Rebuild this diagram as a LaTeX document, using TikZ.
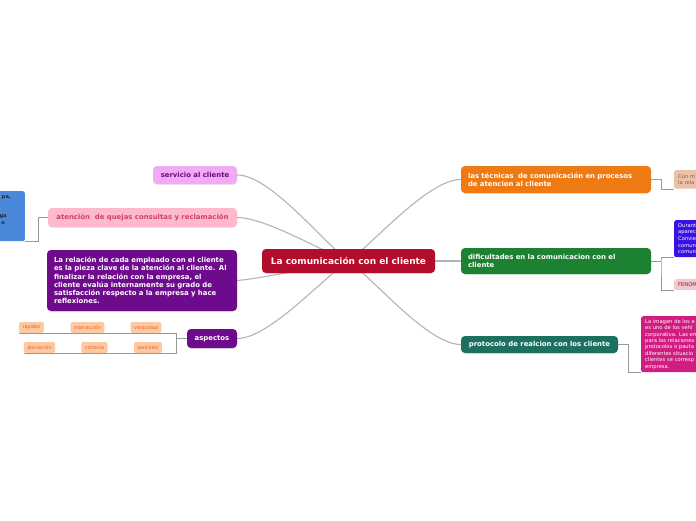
\documentclass[tikz,border=0pt]{standalone}
\usepackage{fontspec}
\setmainfont{DejaVu Sans}
\usepackage{tikz}
\usetikzlibrary{positioning,backgrounds,shadows}
\definecolor{mapCentral}{HTML}{B30D2B}
\definecolor{mapLila}{HTML}{F2AAF4}
\definecolor{mapLilaTxt}{HTML}{6A0A80}
\definecolor{mapRosa}{HTML}{FFB9CC}
\definecolor{mapRosaTxt}{HTML}{D2406A}
\definecolor{mapMorado}{HTML}{6E0A8C}
\definecolor{mapNaranja}{HTML}{EE7A14}
\definecolor{mapVerde}{HTML}{1C8232}
\definecolor{mapTeal}{HTML}{1B7060}
\definecolor{mapMagenta}{HTML}{D21C82}
\definecolor{mapAzul}{HTML}{3A10E5}
\definecolor{mapCeleste}{HTML}{4A88DA}
\definecolor{mapFen}{HTML}{F0C8D0}
\definecolor{mapFenTxt}{HTML}{8A2030}
\definecolor{mapArena}{HTML}{EBC2A8}
\definecolor{mapArenaTxt}{HTML}{806050}
\definecolor{tagBg}{HTML}{FCC9A2}
\definecolor{tagTxt}{HTML}{F05A28}
\definecolor{lineaGris}{HTML}{B4B4B4}
\tikzset{
  tema/.style={rounded corners=4pt, align=center, font=\bfseries\fontsize{6.9}{8}\selectfont, inner sep=3pt, fill=#1, text=white, drop shadow={shadow xshift=0pt, shadow yshift=-0.8pt, opacity=0.18}},
  etiqueta/.style={rounded corners=1.5pt, fill=tagBg, text=tagTxt, font=\fontsize{4.8}{5}\selectfont, inner xsep=3.5pt, inner ysep=0pt, minimum height=11pt},
  nota/.style={rounded corners=2pt, fill=#1, align=left, anchor=north west, font=\fontsize{5.2}{6.6}\selectfont, inner sep=4pt, text width=80pt},
  enlace/.style={draw=lineaGris, line width=1.1pt, looseness=0.6},
  conector/.style={draw=black!40, line width=0.5pt},
}
\begin{document}
\begin{tikzpicture}[x=1pt, y=1pt]
\clip (0,0) rectangle (696,-520);
% tema central
\node[tema=mapCentral, font=\bfseries\fontsize{9}{10}\selectfont, minimum width=173pt, minimum height=24pt] (central) at (348.5,-261) {La comunicación con el cliente};
% ramas izquierda
\node[tema=mapLila, text=mapLilaTxt, minimum width=84pt, minimum height=18pt] (servicio) at (195,-175) {servicio al cliente};
\node[tema=mapRosa, text=mapRosaTxt, minimum width=189pt, minimum height=19pt] (quejas) at (142.5,-217.5) {atención\ \ de quejas consultas y reclamación};
\node[tema=mapMorado, text width=176pt, align=left, inner xsep=7pt, minimum height=61pt, font=\bfseries\fontsize{6.9}{8.3}\selectfont] (relacion) at (142,-280.5) {La relación de cada empleado con el cliente\\es la pieza clave de la atención al cliente. Al\\finalizar la relación con la empresa, el\\cliente evalúa internamente su grado de\\satisfacción respecto a la empresa y hace\\reflexiones.};
\node[tema=mapMorado, minimum width=50pt, minimum height=19pt] (aspectos) at (212,-338.5) {aspectos};
% ramas derecha
\node[tema=mapNaranja, text width=176pt, align=left, inner xsep=7pt, minimum height=27pt] (tecnicas) at (556,-179.5) {las técnicas\ \ de comunicación en procesos\\de atencion al cliente};
\node[tema=mapVerde, text width=176pt, align=left, inner xsep=7pt, minimum height=26pt] (dificultades) at (556,-261) {dificultades en la comunicacion con el\\cliente};
\node[tema=mapTeal, minimum width=157pt, minimum height=17pt] (protocolo) at (539.5,-344.5) {protocolo de realcion con los cliente};
% etiquetas de aspectos
\node[etiqueta] (rapidez) at (31.5,-327.5) {rapidez};
\node[etiqueta] (interaccion) at (87.5,-327.5) {interacción};
\node[etiqueta] (veracidad) at (146,-327.5) {veracidad};
\node[etiqueta] (discrecion) at (39.5,-347.5) {discreción};
\node[etiqueta] (cortesia) at (94.5,-347.5) {cortesía};
\node[etiqueta] (sencillez) at (148,-347.5) {sencillez};
% notas cortadas por el borde
\node[nota=mapCeleste, anchor=north east, minimum height=50pt] (notaizq) at (25,-191) {};
\node[font=\bfseries\fontsize{5}{5}\selectfont, text=black!85, anchor=east, inner sep=0pt] (fragpa) at (11,-198) {pa,};
\node[font=\bfseries\fontsize{5}{5}\selectfont, text=black!85, anchor=east, inner sep=0pt] (fragga) at (7,-217) {ga};
\node[font=\bfseries\fontsize{5}{5}\selectfont, text=black!85, anchor=east, inner sep=0pt] (frago) at (5,-223) {o};
\node[nota=mapArena, text=mapArenaTxt, minimum height=18pt] (notacon) at (674,-170) {Con m\\la rela};
\node[nota=mapAzul, text=white, minimum height=37pt, inner ysep=2pt] (notadur) at (674,-220) {Durant\\aparec\\Convie\\comun\\comun};
\node[nota=mapFen, text=mapFenTxt, minimum height=11pt, inner ysep=2pt] (notafen) at (674,-279) {FENOM};
\node[nota=mapMagenta, text=white, minimum height=56pt, inner ysep=3pt, font=\fontsize{5.2}{6.4}\selectfont] (notaimg) at (641,-316) {La imagen de los e\\es uno de los vehí\\corporativa. Las em\\para las relaciones\\protocolos o pauta\\diferentes situacio\\clientes se corresp\\empresa.};
% codos
\coordinate (codoquejas) at (38,-217.5);
\coordinate (codoasp) at (176,-338.5);
\coordinate (codotec) at (661,-179.5);
\coordinate (cododif) at (661,-261);
\coordinate (codoprot) at (628,-344.5);
\begin{scope}[on background layer]
\fill[white] (0,0) rectangle (696,-520);
\draw[enlace] (servicio.east) to[out=0, in=143] (central.center);
\draw[enlace] (quejas.east) to[out=0, in=160] (central.center);
\draw[enlace] (relacion.east) to[out=5, in=190] (central.center);
\draw[enlace] (aspectos.east) to[out=0, in=214] (central.center);
\draw[enlace] (tecnicas.west) to[out=180, in=36] (central.center);
\draw[enlace] (dificultades.west) -- (central.center);
\draw[enlace] (protocolo.west) to[out=180, in=-36] (central.center);
\end{scope}
\draw[conector] (quejas.west) -- (codoquejas) |- (notaizq.south east);
\draw[conector] (aspectos.west) -- (codoasp);
\draw[conector] (rapidez.south west) -- (rapidez.south west -| codoasp) -- (discrecion.south west -| codoasp) -- (discrecion.south west);
\draw[conector] (tecnicas.east) -- (codotec) |- (notacon.south west);
\draw[conector] (dificultades.east) -- (cododif);
\draw[conector] (notadur.south west) -| (cododif) |- (notafen.south west);
\draw[conector] (protocolo.east) -- (codoprot) |- (notaimg.south west);
\end{tikzpicture}
\end{document}
